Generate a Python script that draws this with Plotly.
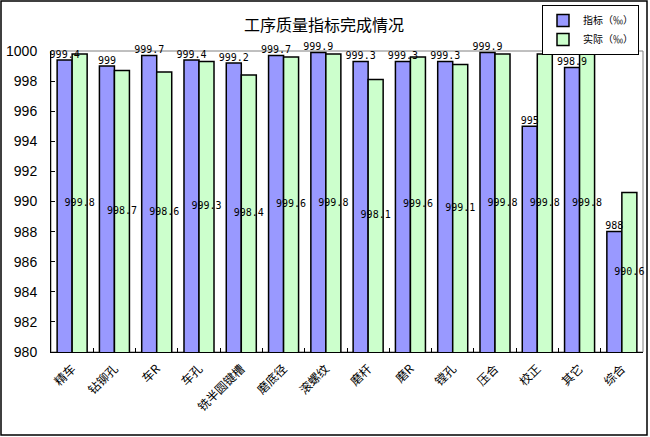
import plotly.graph_objects as go

categories = ["精车", "钻铆孔", "车R", "车孔", "铣半圆键槽", "磨底径", "滚螺纹",
              "磨杆", "磨R", "镗孔", "压合", "校正", "其它", "综合"]
target = [999.4, 999, 999.7, 999.4, 999.2, 999.7, 999.9,
          999.3, 999.3, 999.3, 999.9, 995, 998.9, 988]
actual = [999.8, 998.7, 998.6, 999.3, 998.4, 999.6, 999.8,
          998.1, 999.6, 999.1, 999.8, 999.8, 999.8, 990.6]

W, H = 650, 437
L, R, T, B = 51, 7, 51, 85
pw = W - L - R
ph = H - T - B
y_min = 980

font_cjk = "Noto Sans CJK SC"
font_num = "DejaVu Sans Mono"
num_font = dict(family=font_num, size=10, color="black")

fig = go.Figure()
fig.add_trace(go.Bar(
    x=categories, y=target, name="指标（‰）",
    marker=dict(color="#9999FF", line=dict(color="black", width=1.5)),
))
fig.add_trace(go.Bar(
    x=categories, y=actual, name="实际（‰）",
    marker=dict(color="#CCFFCC", line=dict(color="black", width=1.5)),
))

# value labels: target on top of bar, actual centred inside the bar
fig.add_trace(go.Scatter(
    x=categories, y=target, mode="text", text=[str(v) for v in target],
    textposition="top center", textfont=num_font, showlegend=False,
    hoverinfo="skip", cliponaxis=False,
))
fig.add_trace(go.Scatter(
    x=categories, y=[(y_min + v) / 2 for v in actual], mode="text",
    text=[str(v) for v in actual], textposition="middle center",
    textfont=num_font, showlegend=False, hoverinfo="skip", cliponaxis=False,
))

# plot frame (gray) and outer chart border
fig.add_shape(type="rect", xref="paper", yref="paper", x0=0, x1=1, y0=0, y1=1,
              line=dict(color="#808080", width=1), layer="below")
fig.add_shape(type="rect", xref="paper", yref="paper",
              x0=(1 - L) / pw, x1=(W - 3 - L) / pw,
              y0=-(H - 2 - (T + ph)) / ph, y1=(T + ph - 1) / ph,
              line=dict(color="black", width=1.5))

fig.update_layout(
    width=W, height=H,
    margin=dict(l=L, r=R, t=T, b=B, autoexpand=False),
    paper_bgcolor="white", plot_bgcolor="white",
    barmode="group", bargap=0.29, bargroupgap=0,
    scattermode="group", scattergap=0.29,
    title=dict(text="工序质量指标完成情况", x=324 / W, xanchor="center",
               y=1 - 25 / H, yanchor="middle",
               font=dict(family=font_cjk, size=16, color="black")),
    legend=dict(x=(639 - L) / pw, y=(T + ph - 5) / ph, xanchor="right", yanchor="top",
                bordercolor="black", borderwidth=1, bgcolor="white",
                font=dict(family=font_cjk, size=10, color="black"),
                itemwidth=30, tracegroupgap=0),
    showlegend=True,
    font=dict(family=font_cjk, color="black"),
)
fig.update_yaxes(range=[y_min, 1000], dtick=2, showgrid=False, showline=True,
                 linecolor="black", linewidth=1, ticks="inside", ticklen=4,
                 tickcolor="black", zeroline=False, automargin=False,
                 ticklabelstandoff=10,
                 tickfont=dict(family="Liberation Sans", size=14, color="black"))
fig.update_xaxes(showgrid=False, showline=True, linecolor="black", linewidth=1,
                 ticks="inside", ticklen=4, tickcolor="black", tickson="boundaries",
                 tickangle=-45, automargin=False, ticklabelstandoff=4,
                 tickfont=dict(family=font_cjk, size=12, color="black"))

fig.write_html("out.html", config={"displayModeBar": False},
               post_script="document.body.style.margin='0';")
